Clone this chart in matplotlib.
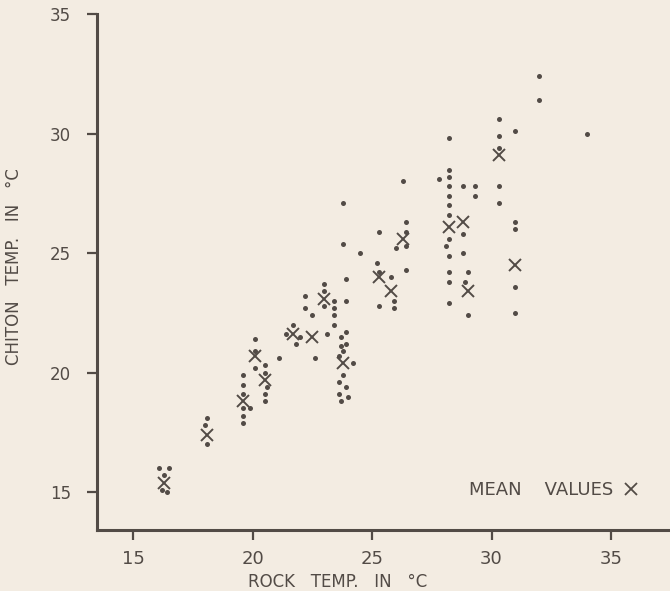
import numpy as np
import matplotlib
matplotlib.use("Agg")
import matplotlib.pyplot as plt
from matplotlib.lines import Line2D

### ==========================
### data (deg C)
### ==========================

# single readings: rock temp vs chiton temp
rock_temp = [16.1, 16.5, 16.3, 16.2, 16.4,
             18.1, 18.0, 18.1,
             19.6, 19.6, 19.6, 19.9, 19.6, 19.6, 19.6,
             20.1, 20.1, 20.1,
             20.5, 20.5, 20.6, 20.5, 20.5,
             21.1,
             21.7, 21.4, 22.0, 21.8,
             22.2, 22.2, 22.5, 22.6,
             23.0, 23.0, 23.0, 23.1,
             23.4, 23.4, 23.4, 23.4,
             23.9, 23.9, 23.8, 23.8, 23.9,
             23.7, 23.9, 23.7, 23.8, 23.6, 24.2, 23.8, 23.6, 23.9, 23.6, 24.0, 23.7,
             24.5,
             25.3, 25.2, 25.3, 25.3,
             25.8, 25.9, 25.9,
             26.3, 26.4, 26.4, 26.4, 26.0, 26.4,
             28.2, 28.2, 28.2, 28.2, 28.2, 28.2, 28.2, 28.2, 28.1, 28.2, 28.2, 28.2, 28.2,
             27.8,
             28.8, 28.8, 28.8,
             29.3, 29.3,
             29.0, 28.9, 29.0,
             30.3, 30.3, 30.3, 30.3, 30.3,
             31.0, 31.0, 31.0, 31.0, 31.0,
             32.0, 32.0, 34.0]

chiton_temp = [16.0, 16.0, 15.7, 15.1, 15.0,
               18.1, 17.8, 17.0,
               19.9, 19.5, 19.1, 18.5, 18.5, 18.2, 17.9,
               21.4, 20.9, 20.2,
               20.3, 20.0, 19.4, 19.1, 18.8,
               20.6,
               22.0, 21.6, 21.5, 21.2,
               23.2, 22.7, 22.4, 20.6,
               23.7, 23.4, 22.8, 21.6,
               23.0, 22.7, 22.4, 22.0,
               23.0, 23.9, 25.4, 27.1, 21.7,
               21.5, 21.2, 21.1, 20.9, 20.7, 20.4, 19.9, 19.6, 19.4, 19.1, 19.0, 18.8,
               25.0,
               25.9, 24.6, 24.2, 22.8,
               24.0, 23.0, 22.7,
               28.0, 26.3, 25.9, 25.3, 25.2, 24.3,
               29.8, 28.5, 28.2, 27.8, 27.4, 27.0, 26.6, 25.6, 25.3, 24.9, 24.2, 23.8, 22.9,
               28.1,
               27.8, 25.8, 25.0,
               27.8, 27.4,
               24.2, 23.8, 22.4,
               30.6, 29.9, 29.4, 27.8, 27.1,
               30.1, 26.3, 26.0, 23.6, 22.5,
               32.4, 31.4, 30.0]

# mean values (the X marks)
mean_rock = [16.3, 18.1, 19.6, 20.1, 20.5, 21.7, 22.5, 23.0, 23.8,
             25.3, 25.8, 26.3, 28.2, 28.8, 29.0, 30.3, 31.0]
mean_chiton = [15.4, 17.4, 18.8, 20.7, 19.7, 21.6, 21.5, 23.1, 20.4,
               24.0, 23.4, 25.6, 26.1, 26.3, 23.4, 29.1, 24.5]

xticks = [15, 20, 25, 30, 35]
yticks = [15, 20, 25, 30, 35]

### ==========================
### plot
### ==========================
ink = '#524b46'
paper = '#f3ece2'

fig = plt.figure(figsize=(6.7, 5.91), dpi=100)
fig.patch.set_facecolor(paper)
ax = fig.add_axes([0.145, 0.103, 0.855, 0.873])
ax.set_facecolor(paper)

ax.plot(rock_temp, chiton_temp, 'o', color=ink, markersize=3.6, markeredgewidth=0)
ax.plot(mean_rock, mean_chiton, 'x', color=ink, markersize=8, markeredgewidth=1.4)

ax.set_xlim(13.49, 37.47)
ax.set_ylim(13.41, 35.0)

for s in ['top', 'right']:
    ax.spines[s].set_visible(False)
for s in ['left', 'bottom']:
    ax.spines[s].set_color(ink)
    ax.spines[s].set_linewidth(2.2)

ax.set_xticks(xticks)
ax.set_yticks(yticks)
ax.set_xticklabels([str(t) for t in xticks])
ax.set_yticklabels([str(t) for t in yticks])
ax.tick_params(axis='x', direction='out', length=7, width=1.6, color=ink,
               labelcolor=ink, labelsize=13, pad=7)
ax.tick_params(axis='y', direction='out', length=7, width=1.6, color=ink,
               labelcolor=ink, labelsize=12, pad=12)

ax.set_xlabel('ROCK   TEMP.   IN   \u00b0C', color=ink, fontsize=12)
ax.xaxis.set_label_coords(0.42, -0.083)
ax.set_ylabel('CHITON   TEMP.   IN   \u00b0C', color=ink, fontsize=12)
ax.yaxis.set_label_coords(-0.13, 0.51)

# legend key for the means
key = Line2D([], [], linestyle='none', marker='x', color=ink, markersize=9, markeredgewidth=1.3)
leg = ax.legend([key], ['MEAN    VALUES'], loc='center right', bbox_to_anchor=(0.945, 0.078),
                frameon=False, markerfirst=False, handlelength=0.8, handletextpad=0.6,
                borderpad=0, borderaxespad=0, fontsize=13)
for t in leg.get_texts():
    t.set_color(ink)

fig.savefig('out.png', dpi=100, facecolor=paper)
